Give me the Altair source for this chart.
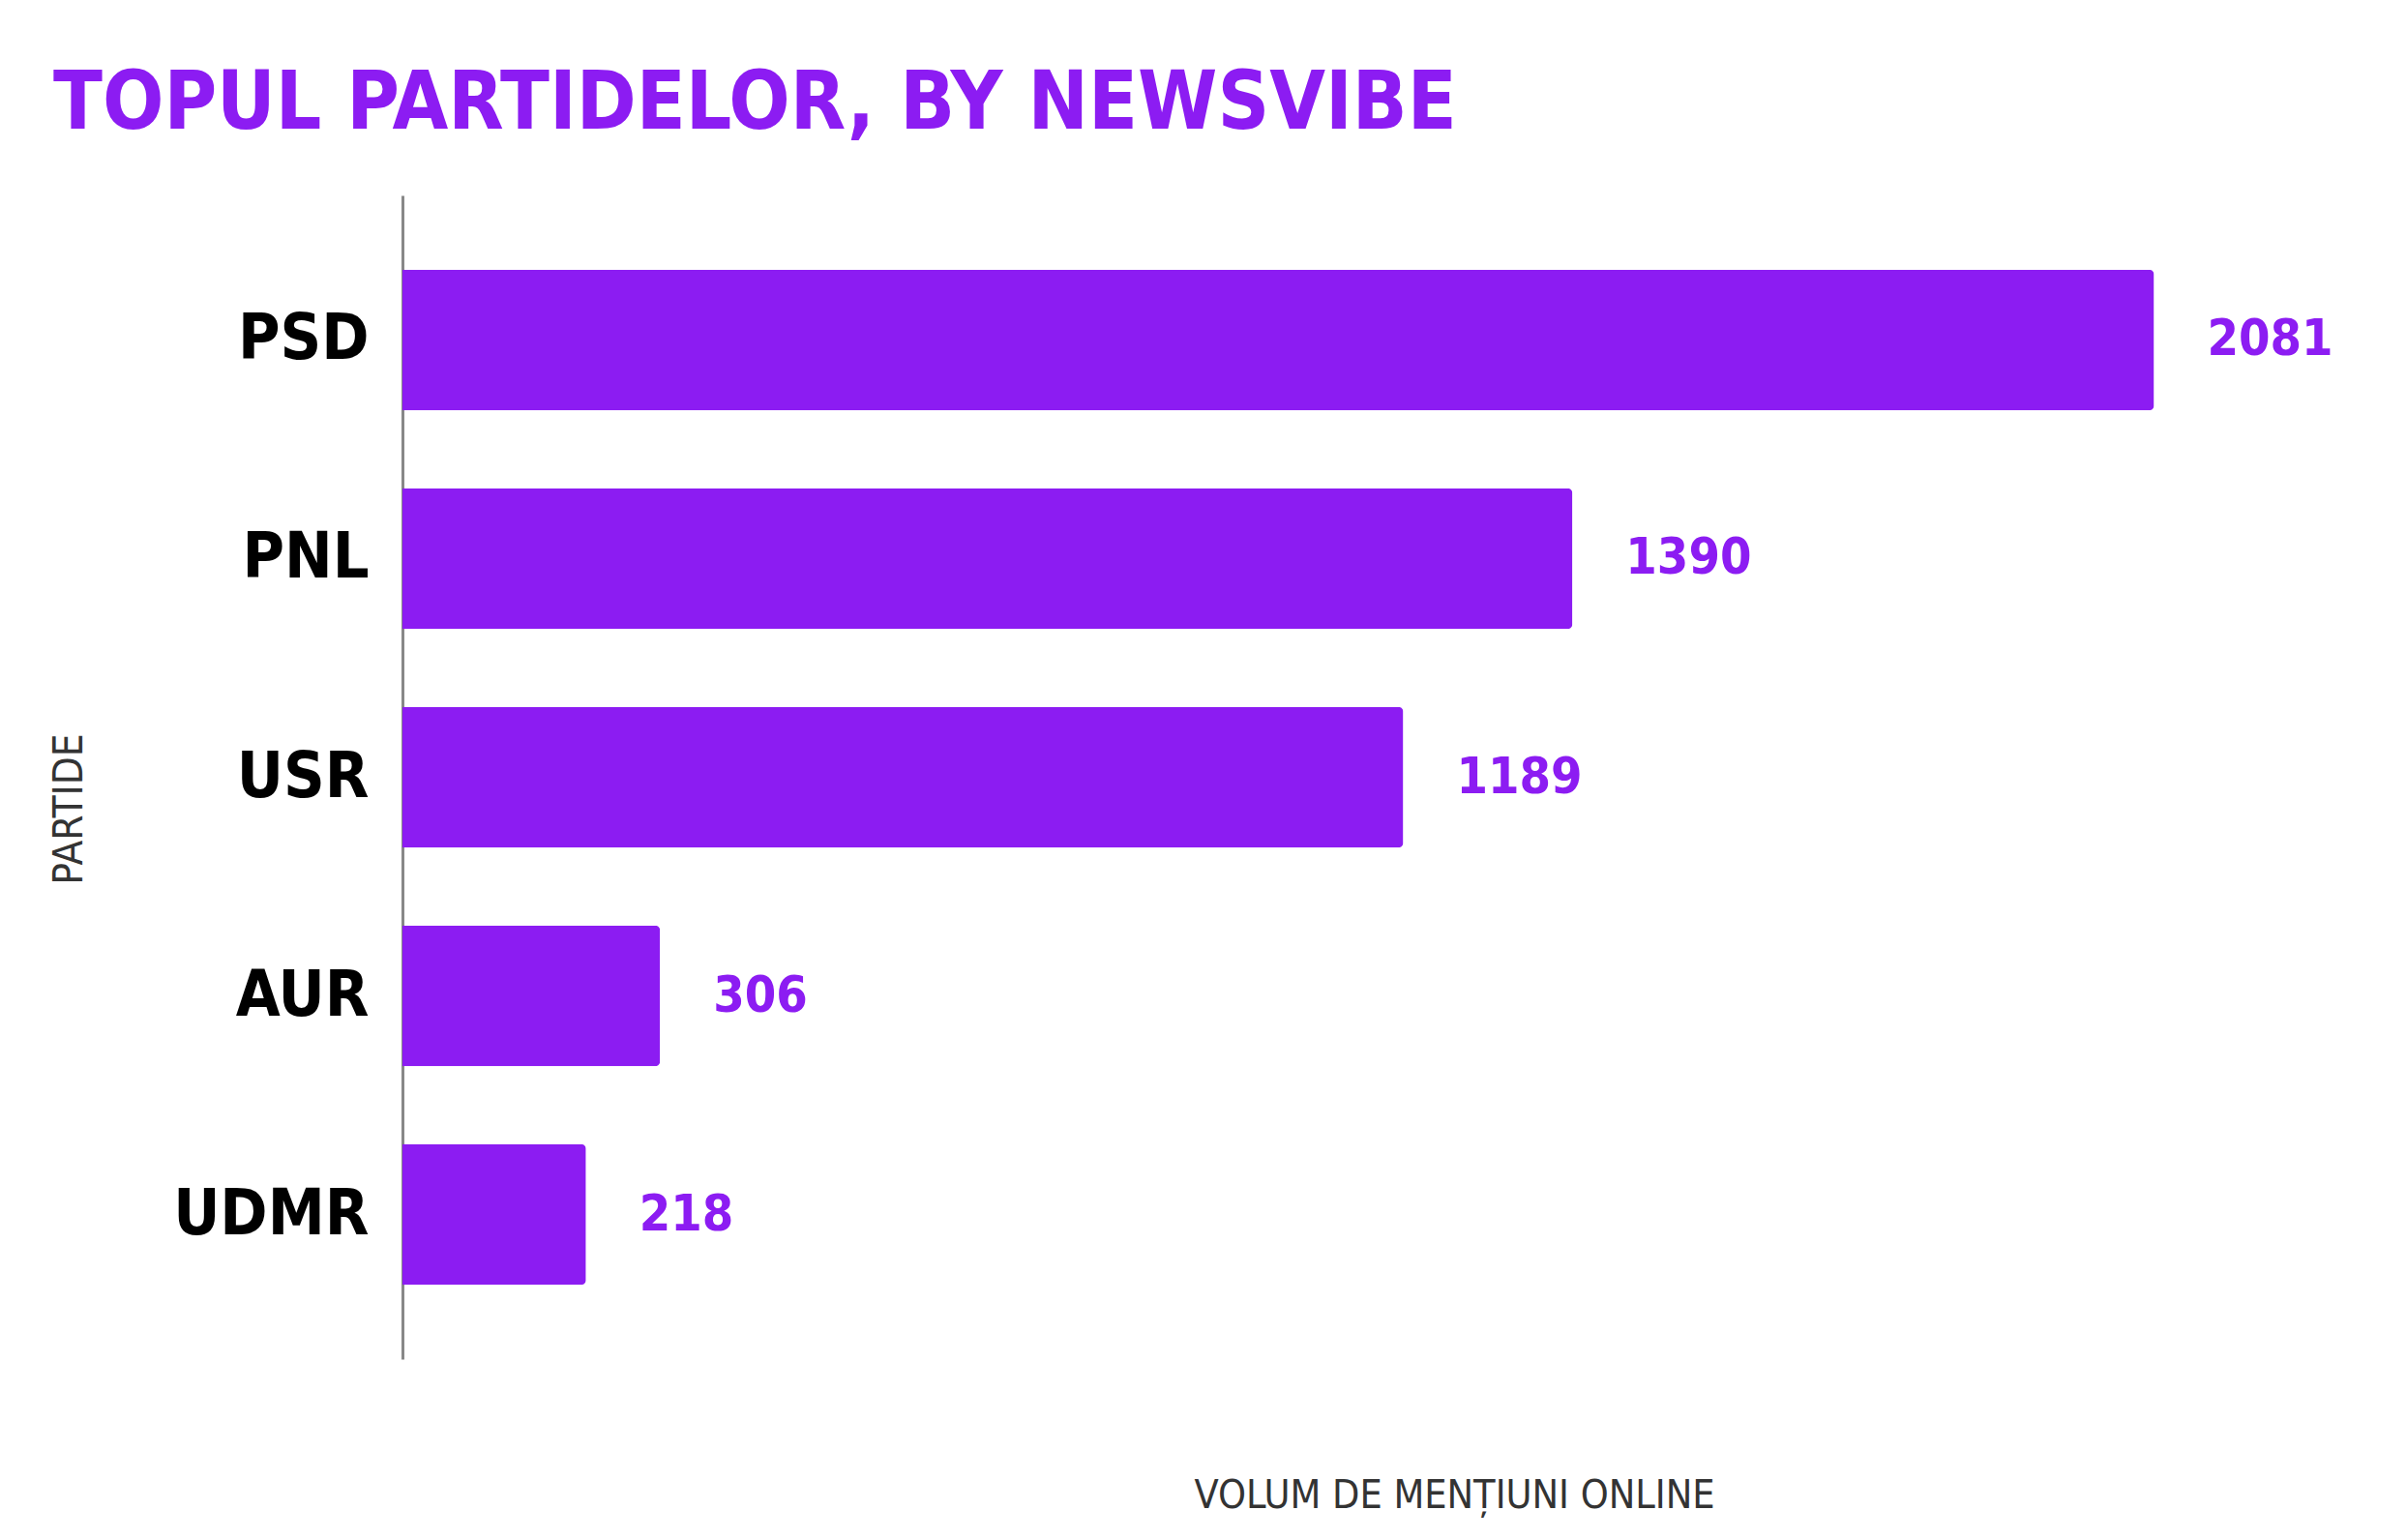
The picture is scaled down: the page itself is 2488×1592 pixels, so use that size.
import altair as alt
import pandas as pd

parties = ["PSD", "PNL", "USR", "AUR", "UDMR"]
mentions = [2081, 1390, 1189, 306, 218]

df = pd.DataFrame({"partid": parties, "volum": mentions})

PURPLE = "#8C1CF2"
FONT = "DejaVu Sans Condensed"

base = alt.Chart(df).encode(
    y=alt.Y(
        "partid:N",
        sort=parties,
        scale=alt.Scale(paddingInner=0.357, paddingOuter=0.34),
        axis=alt.Axis(
            title="PARTIDE",
            titleFont=FONT,
            titleFontSize=42,
            titleFontWeight="normal",
            titleColor="#333333",
            titleAngle=270,
            titleAlign="center",
            titleBaseline="middle",
            titleX=-345,
            titleY=634,
            labelFont=FONT,
            labelFontSize=66,
            labelFontWeight="bold",
            labelColor="#000000",
            labelPadding=35,
            labelLimit=1000,
            ticks=False,
            domainColor="#888888",
            domainWidth=3,
            grid=False,
        ),
    ),
    x=alt.X(
        "volum:Q",
        scale=alt.Scale(domain=[0, 2300], nice=False),
        axis=alt.Axis(
            title="VOLUM DE MENȚIUNI ONLINE",
            titleFont=FONT,
            titleFontSize=41,
            titleFontWeight="normal",
            titleColor="#333333",
            titleX=1087,
            titleY=153,
            titleAlign="center",
            titleBaseline="alphabetic",
            labels=False,
            ticks=False,
            domain=False,
            grid=False,
        ),
    ),
)

bars = base.mark_bar(color=PURPLE, cornerRadiusEnd=5)
labels = base.mark_text(
    align="left", baseline="middle", dx=55, color=PURPLE,
    font=FONT, fontSize=52, fontWeight="bold"
).encode(text="volum:Q")

chart = (
    (bars + labels)
    .properties(
        width=2001,
        height=1203,
        autosize=alt.AutoSizeParams(type="none"),
        padding={"left": 408, "top": 194, "right": 60, "bottom": 180},
        view=alt.ViewBackground(stroke="transparent", strokeWidth=0),
        title=alt.TitleParams(
            "TOPUL PARTIDELOR, BY NEWSVIBE",
            anchor="start",
            frame="group",
            font=FONT,
            fontSize=83,
            fontWeight="bold",
            color=PURPLE,
            baseline="alphabetic",
            offset=67,
            dx=-361,
            dy=81,
        ),
    )
    .configure_view(stroke="transparent", strokeWidth=0)
    .configure(background="white")
)

chart.save("out.html", embed_options={"renderer": "svg", "actions": False})
